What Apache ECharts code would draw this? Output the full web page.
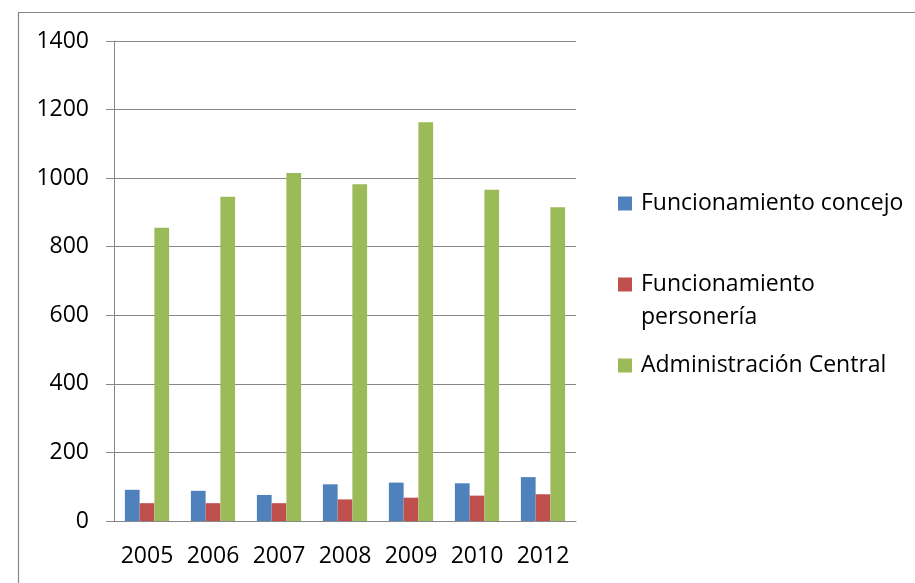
<!DOCTYPE html>
<html>
<head>
<meta charset="utf-8">
<script src="https://cdn.jsdelivr.net/npm/echarts@6/dist/echarts.min.js"></script>
<style>
html,body{margin:0;padding:0;background:#fff;}
#chart{width:915px;height:583px;}
</style>
</head>
<body>
<div id="chart"></div>
<script>
const categories = ['2005','2006','2007','2008','2009','2010','2012'];
const seriesNames = ['Funcionamiento concejo','Funcionamiento personería','Administración Central'];
const concejo = [91, 88, 76, 107, 112, 110, 128];
const personeria = [52, 52, 52, 63, 68, 74, 78];
const administracion = [855, 946, 1015, 982, 1163, 966, 915];
const yTicks = [0, 200, 400, 600, 800, 1000, 1200, 1400];

const FONT = '"Open Sans", sans-serif';
const GRAY = '#878787';
const colors = ['#4F81BD', '#C0504D', '#9BBB59'];

const chart = echarts.init(document.getElementById('chart'));
chart.setOption({
  animation: false,
  color: colors,
  graphic: [{
    type: 'rect',
    shape: {x: 18.5, y: 12.5, width: 1000, height: 1000},
    style: {fill: 'none', stroke: GRAY, lineWidth: 1.2},
    silent: true
  }],
  grid: {left: 114, right: 339, top: 41, bottom: 62},
  legend: {
    orient: 'vertical',
    left: 618,
    top: 187,
    padding: 0,
    itemWidth: 14,
    itemHeight: 14,
    itemGap: 15,
    icon: 'rect',
    data: seriesNames,
    formatter: function (name) {
      if (name === 'Funcionamiento personería') return '\nFuncionamiento\npersonería';
      return name;
    },
    textStyle: {fontFamily: FONT, fontSize: 23, color: '#000', lineHeight: 33, padding: [0, 0, 0, 4]}
  },
  xAxis: {
    type: 'category',
    data: categories,
    axisLine: {lineStyle: {color: GRAY, width: 1}},
    axisTick: {length: 9, lineStyle: {color: GRAY}},
    axisLabel: {fontFamily: FONT, fontSize: 23, color: '#000', margin: 24, interval: 0}
  },
  yAxis: {
    type: 'value',
    min: yTicks[0],
    max: yTicks[yTicks.length - 1],
    interval: 200,
    axisLine: {show: true, lineStyle: {color: GRAY, width: 1}},
    axisTick: {show: true, length: 8, lineStyle: {color: GRAY}},
    splitLine: {lineStyle: {color: GRAY, width: 1}},
    axisLabel: {fontFamily: FONT, fontSize: 23, color: '#000', margin: 25,
      formatter: function (v) { return String(v); }}
  },
  series: [
    {name: seriesNames[0], type: 'bar', data: concejo, barGap: '0%', barCategoryGap: '33%'},
    {name: seriesNames[1], type: 'bar', data: personeria, barGap: '0%', barCategoryGap: '33%'},
    {name: seriesNames[2], type: 'bar', data: administracion, barGap: '0%', barCategoryGap: '33%'}
  ]
});
</script>
</body>
</html>
